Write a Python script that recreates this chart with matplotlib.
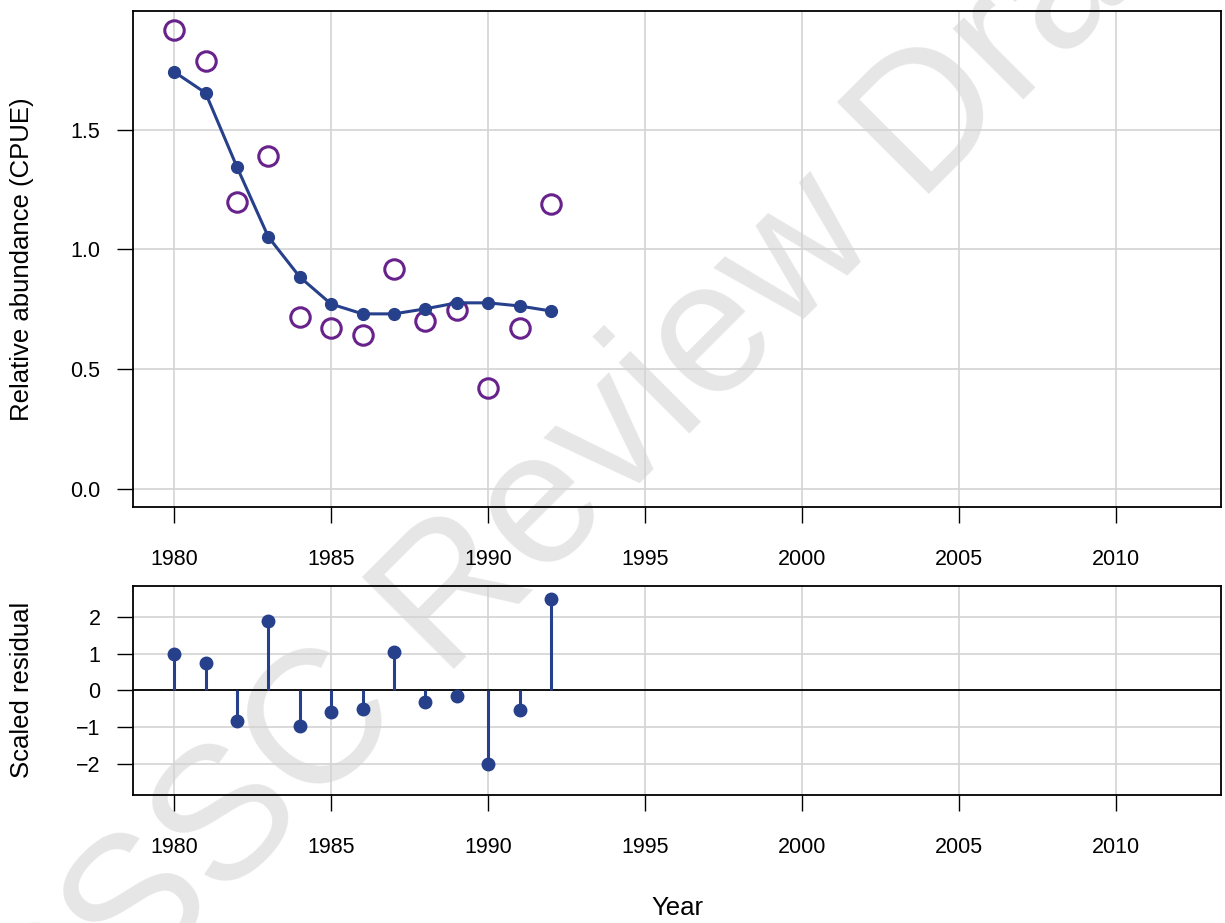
import numpy as np
import matplotlib
matplotlib.use('Agg')
import matplotlib.pyplot as plt

plt.rcParams['font.family'] = ['Liberation Sans', 'DejaVu Sans']

years = [1980, 1981, 1982, 1983, 1984, 1985, 1986, 1987, 1988, 1989, 1990, 1991, 1992]
observed = [1.916, 1.787, 1.198, 1.390, 0.718, 0.672, 0.643, 0.919, 0.701, 0.747, 0.422, 0.672, 1.190]
predicted = [1.741, 1.653, 1.344, 1.052, 0.885, 0.772, 0.731, 0.731, 0.752, 0.777, 0.777, 0.764, 0.743]
residuals = [1.00, 0.75, -0.84, 1.89, -0.96, -0.60, -0.51, 1.05, -0.33, -0.16, -2.00, -0.54, 2.49]

x_ticks = [1980, 1985, 1990, 1995, 2000, 2005, 2010]
cpue_ticks = [0.0, 0.5, 1.0, 1.5]
cpue_labels = ['0.0', '0.5', '1.0', '1.5']
resid_ticks = [-2, -1, 0, 1, 2]
resid_labels = ['\u22122', '\u22121', '0', '1', '2']

BLUE = '#27408B'
PURPLE = '#68228B'
GRID = '#D3D3D3'
TICK_SIZE = 15.5
LABEL_SIZE = 18.5


def style_axes(ax):
    ax.set_facecolor('none')
    for s in ax.spines.values():
        s.set_linewidth(1.3)
    ax.tick_params(direction='out', length=11.5, width=1.0, labelsize=TICK_SIZE)
    ax.tick_params(axis='x', pad=19)
    ax.tick_params(axis='y', pad=12)
    ax.grid(True, color=GRID, linewidth=1.2)
    ax.set_axisbelow(True)
    ax.set_xlim(1978.69, 2013.34)
    ax.set_xticks(x_ticks)


fig = plt.figure(figsize=(12.25, 9.23), dpi=100)

# watermark behind everything
fig.text(0.5078, 0.4572, 'CSSC Review Draft', fontsize=136, color='#E6E6E6',
         rotation=45, rotation_mode='anchor', ha='center', va='baseline', zorder=-1)

ax1 = fig.add_axes([0.1086, 0.4507, 0.8881, 0.5374])
style_axes(ax1)
ax1.set_ylim(-0.075, 1.995)
ax1.set_yticks(cpue_ticks)
ax1.set_yticklabels(cpue_labels)
ax1.plot(years, observed, 'o', ms=14, mfc='none', mec=PURPLE, mew=2.2, zorder=3)
ax1.plot(years, predicted, '-o', color=BLUE, lw=2.2, ms=8.5, zorder=4)

ax2 = fig.add_axes([0.1086, 0.1387, 0.8881, 0.2259])
style_axes(ax2)
ax2.set_ylim(-2.85, 2.83)
ax2.set_yticks(resid_ticks)
ax2.set_yticklabels(resid_labels)
ax2.axhline(0, color='black', lw=1.3, zorder=2)
ax2.vlines(years, 0, residuals, color=BLUE, lw=2.2, zorder=3)
ax2.plot(years, residuals, 'o', color=BLUE, ms=9, zorder=4)

fig.text(0.018, 0.719, 'Relative abundance (CPUE)', rotation=90, ha='center',
         va='center', fontsize=LABEL_SIZE)
fig.text(0.018, 0.2524, 'Scaled residual', rotation=90, ha='center',
         va='center', fontsize=LABEL_SIZE)
fig.text(0.5527, 0.0163, 'Year', ha='center', va='center', fontsize=LABEL_SIZE)

fig.savefig('out.png', dpi=100)
